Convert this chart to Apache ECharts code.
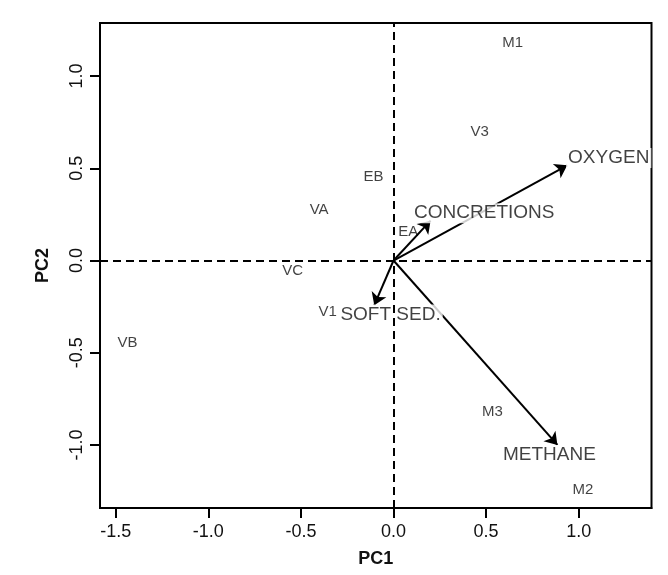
<!DOCTYPE html>
<html>
<head>
<meta charset="utf-8">
<script src="https://cdn.jsdelivr.net/npm/echarts@6/dist/echarts.min.js"></script>
<style>html,body{margin:0;padding:0;background:#fff;}#c{width:668px;height:575px;}</style>
</head>
<body>
<div id="c"></div>
<script>
const siteNames = ['M1','V3','EB','VA','EA','VC','V1','VB','M3','M2'];
const siteX = [0.644, 0.465, -0.108, -0.402, 0.080, -0.545, -0.356, -1.437, 0.534, 1.023];
const siteY = [1.181, 0.697, 0.451, 0.275, 0.154, -0.054, -0.278, -0.447, -0.818, -1.242];

const varNames = ['OXYGEN','CONCRETIONS','SOFT SED.','METHANE'];
const arrowX = [0.938, 0.200, -0.104, 0.885];
const arrowY = [0.516, 0.216, -0.242, -1.000];
const varLabelX = [1.162, 0.49, -0.016, 0.842];
const varLabelY = [0.556, 0.257, -0.293, -1.055];

const xTicks = [-1.5, -1.0, -0.5, 0.0, 0.5, 1.0];
const yTicks = [-1.0, -0.5, 0.0, 0.5, 1.0];

const FONT = 'Liberation Sans';
const chart = echarts.init(document.getElementById('c'), null, {renderer: 'canvas'});

const siteData = siteNames.map((n, i) => ({value: [siteX[i], siteY[i]], name: n}));
const varData = varNames.map((n, i) => ({value: [varLabelX[i], varLabelY[i]], name: n}));
const arrowData = varNames.map((n, i) => ({coords: [[0, 0], [arrowX[i], arrowY[i]]]}));

chart.setOption({
  animation: false,
  backgroundColor: '#fff',
  grid: {left: 100, top: 23, width: 551.5, height: 485, show: true, borderColor: '#000', borderWidth: 2, backgroundColor: 'transparent'},
  xAxis: {
    type: 'value', min: -1.585, max: 1.393,
    name: 'PC1', nameLocation: 'middle', nameGap: 42,
    nameTextStyle: {fontFamily: FONT, fontSize: 18, fontWeight: 'bold', color: '#111'},
    splitLine: {show: false},
    axisLine: {show: true, onZero: false, lineStyle: {color: '#000', width: 2}},
    axisTick: {show: true, length: 10, lineStyle: {color: '#000', width: 2}, customValues: xTicks},
    axisLabel: {fontFamily: FONT, fontSize: 18, color: '#111', margin: 15, customValues: xTicks,
      formatter: v => v.toFixed(1)}
  },
  yAxis: {
    type: 'value', min: -1.342, max: 1.288,
    name: 'PC2', nameLocation: 'middle', nameGap: 48, nameRotate: 90,
    nameTextStyle: {fontFamily: FONT, fontSize: 18, fontWeight: 'bold', color: '#111'},
    splitLine: {show: false},
    axisLine: {show: true, onZero: false, lineStyle: {color: '#000', width: 2}},
    axisTick: {show: true, length: 10, lineStyle: {color: '#000', width: 2}, customValues: yTicks},
    axisLabel: {fontFamily: FONT, fontSize: 18, color: '#111', margin: 14, rotate: 90, customValues: yTicks,
      formatter: v => v.toFixed(1)}
  },
  series: [
    {
      type: 'scatter', symbolSize: 0, z: 2,
      data: siteData,
      label: {show: true, position: 'inside', formatter: p => p.name, fontFamily: FONT, fontSize: 15, color: '#111'},
      markLine: {
        silent: true, symbol: ['none', 'none'], label: {show: false},
        lineStyle: {color: '#000', width: 2, type: [8, 5]},
        data: [{xAxis: 0}, {yAxis: 0}]
      }
    },
    {
      type: 'lines', coordinateSystem: 'cartesian2d', z: 3,
      symbol: ['none', 'arrow'], symbolSize: 12,
      lineStyle: {color: '#000', width: 2, opacity: 1},
      itemStyle: {color: '#000'},
      data: arrowData
    },
    {
      type: 'scatter', symbolSize: 0, z: 4,
      data: varData,
      label: {show: true, position: 'inside', formatter: p => p.name, fontFamily: FONT, fontSize: 19, color: '#111',
        backgroundColor: '#fff', padding: [1, 2, 0, 2]}
    }
  ]
});
</script>
</body>
</html>
